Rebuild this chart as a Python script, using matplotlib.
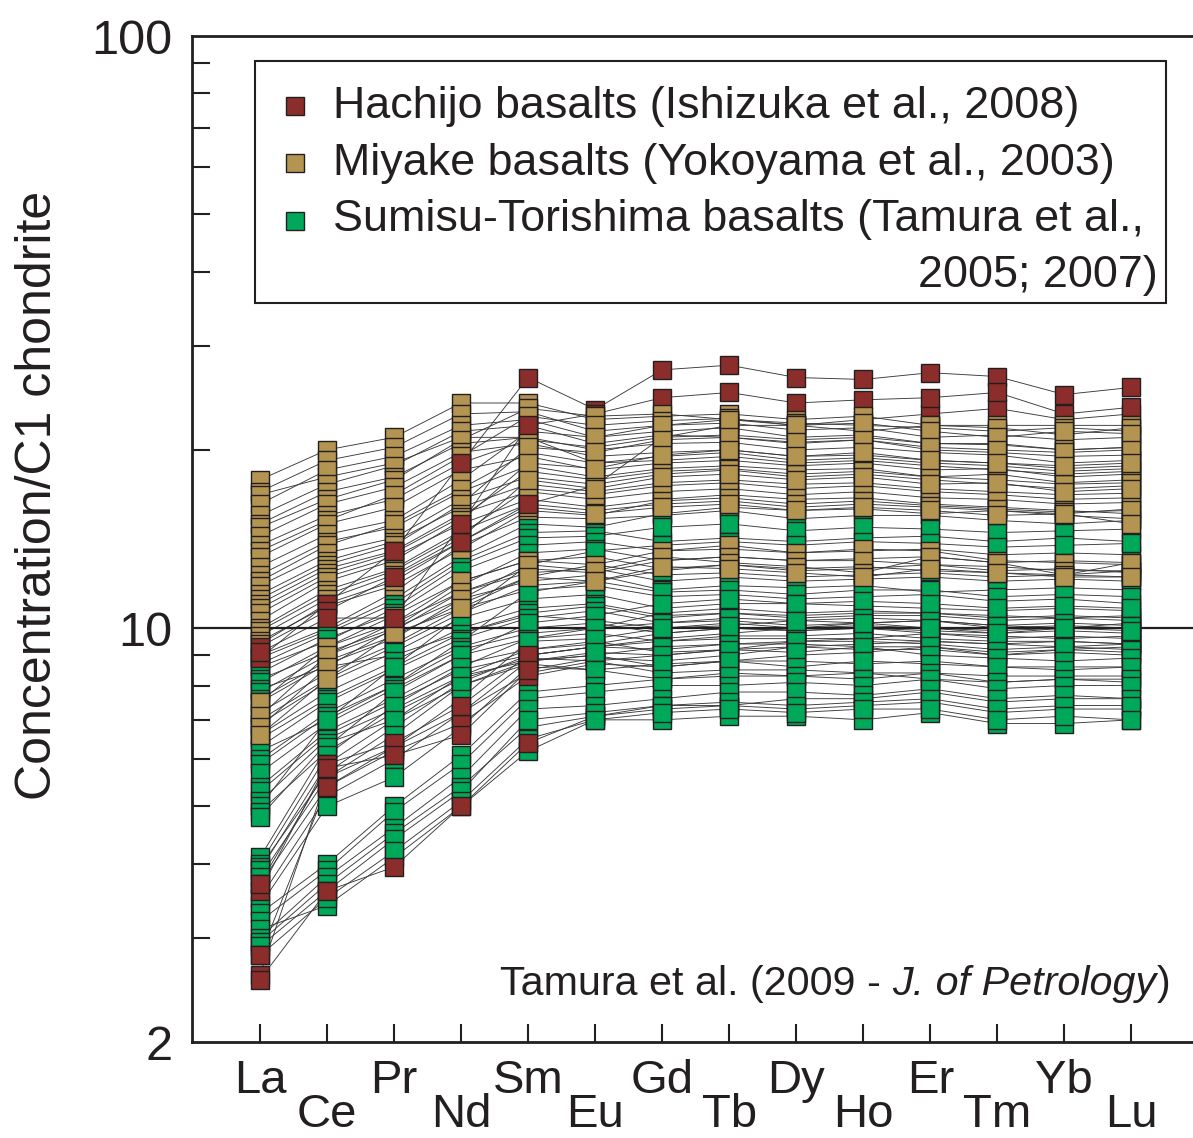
import numpy as np
import matplotlib.pyplot as plt
from matplotlib.patches import Rectangle
from matplotlib.ticker import FixedLocator, NullFormatter

plt.rcParams['font.family'] = ['Liberation Sans', 'DejaVu Sans']

# REE order (chondrite normalised)
elements = ["La", "Ce", "Pr", "Nd", "Sm", "Eu", "Gd", "Tb", "Dy", "Ho", "Er", "Tm", "Yb", "Lu"]

# Hachijo basalts (Ishizuka et al., 2008)
hachijo = [
    [8.9, 11.0, 13.5, 19.0, 26.5, 23.4, 27.3, 27.8, 26.5, 26.3, 27.0, 26.6, 24.8, 25.5],
    [9.3, 10.7, 12.2, 14.0, 16.2, 17.4, 21.0, 22.0, 22.0, 22.5, 23.0, 23.5, 22.5, 23.0],
    [9.1, 10.4, 10.4, 15.0, 22.0, 23.0, 24.5, 25.0, 24.0, 24.3, 24.5, 25.0, 23.0, 23.6],
    [2.6, 5.6, 6.3, 7.2, 8.4, 8.8, 9.0, 9.2, 9.5, 9.6, 9.8, 9.7, 9.6, 9.7],
    [2.8, 5.4, 6.2, 6.9, 8.3, 8.7, 8.6, 8.8, 9.0, 9.1, 9.3, 9.0, 9.2, 9.3],
    [3.6, 5.9, 6.4, 7.4, 9.0, 9.3, 9.6, 9.8, 10.0, 10.2, 10.3, 10.1, 10.0, 10.2],
    [3.7, 5.8, 6.1, 6.6, 8.5, 8.9, 8.8, 9.0, 9.3, 9.4, 9.5, 9.4, 9.3, 9.4],
    [2.55, 3.6, 3.95, 5.0, 6.4, 7.1, 7.3, 7.4, 7.6, 7.6, 7.8, 7.5, 7.6, 7.6],
]

# Miyake basalts (Yokoyama et al., 2003)
miyake = [
    [17.8, 20.0, 21.0, 24.0, 24.0, 22.5, 22.8, 23.0, 22.5, 22.8, 22.0, 22.0, 22.0, 22.0],
    [17.0, 19.2, 20.2, 23.0, 23.2, 21.5, 22.0, 22.2, 21.6, 21.8, 21.0, 21.2, 20.8, 21.0],
    [16.8, 18.0, 19.0, 21.0, 21.0, 19.0, 19.2, 19.5, 19.0, 19.2, 18.8, 18.5, 18.2, 18.4],
    [16.2, 18.5, 19.5, 22.0, 22.5, 21.0, 21.5, 21.8, 21.0, 21.2, 20.5, 20.4, 20.0, 20.2],
    [15.5, 17.5, 18.8, 21.5, 22.0, 20.5, 21.2, 21.0, 20.5, 20.8, 20.0, 19.8, 19.5, 19.6],
    [15.0, 17.0, 18.0, 20.5, 21.0, 20.0, 20.5, 20.6, 20.0, 20.2, 19.8, 19.6, 19.0, 19.2],
    [14.8, 16.5, 17.8, 20.8, 23.5, 22.8, 23.0, 22.5, 22.2, 22.0, 21.8, 21.5, 21.8, 21.5],
    [14.3, 16.2, 17.3, 19.8, 20.5, 19.5, 19.8, 20.0, 19.5, 19.6, 19.2, 19.0, 18.6, 18.8],
    [13.8, 15.5, 16.5, 19.0, 20.8, 20.2, 21.0, 21.2, 20.8, 21.0, 20.5, 20.5, 20.0, 20.2],
    [13.5, 15.2, 16.8, 19.5, 22.8, 22.0, 22.4, 22.6, 22.0, 21.5, 22.0, 21.8, 21.2, 21.8],
    [13.2, 15.0, 16.0, 18.5, 19.5, 18.5, 19.0, 19.2, 18.8, 19.0, 18.5, 18.6, 18.0, 18.2],
    [12.7, 14.4, 15.2, 17.8, 21.5, 21.0, 22.0, 22.5, 22.0, 22.2, 21.5, 21.0, 21.5, 21.3],
    [12.3, 14.0, 14.8, 17.0, 18.8, 18.0, 18.6, 18.8, 18.5, 18.6, 18.0, 18.2, 17.6, 17.8],
    [12.0, 13.8, 15.0, 17.2, 19.8, 19.0, 19.5, 19.8, 19.2, 19.4, 19.0, 18.8, 18.4, 18.6],
    [11.8, 13.4, 14.2, 16.5, 18.0, 17.5, 18.2, 18.5, 18.0, 18.2, 17.8, 17.5, 17.2, 17.4],
    [11.4, 13.0, 14.0, 16.0, 17.5, 17.0, 17.6, 17.8, 17.5, 17.6, 17.2, 17.0, 16.8, 16.9],
    [11.2, 12.8, 13.8, 16.2, 20.2, 19.8, 20.8, 21.0, 20.6, 20.8, 20.2, 20.0, 19.8, 20.0],
    [11.0, 12.6, 13.5, 15.6, 17.0, 16.5, 17.0, 17.2, 16.8, 17.0, 16.6, 16.5, 16.2, 16.3],
    [10.8, 12.4, 13.4, 15.4, 18.4, 17.8, 18.4, 18.6, 18.2, 18.4, 18.0, 17.8, 17.5, 17.6],
    [10.6, 12.2, 13.2, 15.0, 16.5, 16.0, 16.5, 16.8, 16.5, 16.6, 16.2, 16.0, 15.8, 15.6],
    [10.3, 12.0, 13.0, 15.2, 19.0, 18.6, 19.6, 20.0, 19.5, 19.8, 19.2, 19.0, 18.8, 19.0],
    [10.0, 11.6, 12.6, 14.6, 16.2, 15.8, 16.2, 16.4, 16.0, 16.2, 16.0, 15.8, 15.5, 15.3],
    [9.9, 11.4, 12.5, 14.4, 17.2, 16.8, 17.4, 17.6, 17.2, 17.4, 17.0, 16.8, 16.5, 16.6],
    [9.7, 11.2, 12.3, 14.2, 17.8, 17.2, 18.0, 18.2, 17.8, 18.0, 17.5, 17.6, 17.0, 17.2],
    [9.5, 10.9, 11.8, 13.6, 15.8, 15.5, 16.4, 16.6, 16.2, 16.4, 16.1, 15.9, 15.7, 15.8],
    [9.4, 11.0, 12.0, 14.0, 16.0, 15.6, 16.0, 16.2, 15.8, 16.0, 15.8, 15.5, 15.6, 15.0],
    [7.5, 9.3, 10.5, 12.0, 13.0, 12.8, 13.5, 13.8, 13.4, 13.6, 13.5, 13.0, 12.9, 12.8],
    [7.1, 9.0, 10.2, 11.5, 12.6, 12.4, 13.0, 13.2, 13.0, 13.0, 12.8, 12.7, 12.5, 12.5],
    [6.8, 8.6, 10.0, 11.2, 12.8, 12.5, 13.2, 12.9, 12.7, 12.4, 13.2, 12.9, 12.3, 12.9],
    [6.6, 8.2, 9.8, 10.8, 12.2, 12.0, 12.7, 12.6, 12.4, 12.2, 12.6, 12.4, 12.2, 12.2],
]

# Sumisu-Torishima basalts (Tamura et al., 2005; 2007)
sumisu = [
    [9.0, 10.0, 11.5, 13.8, 15.4, 15.3, 15.5, 15.8, 15.3, 15.5, 15.5, 15.2, 15.0, 15.2],
    [8.9, 9.9, 11.2, 13.2, 15.0, 14.8, 15.6, 16.0, 15.8, 15.9, 15.6, 15.8, 15.6, 15.9],
    [8.7, 9.8, 11.0, 13.0, 14.5, 14.6, 14.0, 14.2, 14.0, 14.2, 14.3, 14.0, 14.2, 14.0],
    [8.6, 9.5, 10.8, 12.8, 14.2, 14.3, 14.8, 15.0, 14.6, 14.8, 14.7, 14.5, 14.6, 14.7],
    [8.4, 9.6, 10.6, 12.5, 13.8, 14.0, 13.5, 13.6, 13.4, 13.5, 13.6, 13.3, 13.4, 13.3],
    [8.2, 9.1, 10.0, 11.8, 13.4, 13.6, 13.0, 13.2, 13.0, 13.1, 13.2, 12.9, 13.0, 12.9],
    [8.1, 9.3, 10.2, 12.0, 13.0, 13.2, 12.6, 12.8, 12.5, 12.6, 12.8, 12.5, 12.6, 12.4],
    [7.9, 8.6, 9.0, 9.8, 10.5, 10.3, 10.0, 10.2, 10.0, 10.1, 10.0, 9.9, 10.0, 10.0],
    [7.8, 9.0, 9.9, 11.5, 12.4, 12.6, 12.0, 12.2, 12.0, 12.1, 12.2, 12.0, 12.1, 12.0],
    [7.6, 8.8, 9.7, 11.0, 12.2, 12.8, 12.3, 12.4, 12.2, 12.3, 12.4, 12.2, 12.3, 12.2],
    [7.5, 8.7, 9.6, 11.2, 12.0, 12.3, 11.6, 11.8, 11.7, 11.8, 11.5, 11.6, 11.7, 11.6],
    [7.2, 8.4, 9.4, 10.8, 11.6, 11.8, 11.3, 11.4, 11.2, 11.3, 11.4, 11.1, 11.2, 11.0],
    [7.0, 8.2, 9.3, 10.6, 11.8, 12.0, 11.5, 11.6, 11.4, 11.6, 11.6, 11.3, 11.4, 11.3],
    [6.9, 8.1, 9.1, 10.4, 11.2, 11.4, 10.8, 11.0, 11.0, 10.9, 10.8, 10.7, 10.8, 10.7],
    [6.6, 7.8, 8.8, 10.0, 10.8, 11.0, 10.5, 10.6, 10.5, 10.6, 10.6, 10.4, 10.5, 10.4],
    [6.5, 7.6, 8.6, 9.8, 10.6, 10.9, 10.4, 10.6, 10.4, 10.5, 10.5, 10.3, 10.4, 10.3],
    [6.3, 7.5, 8.5, 9.6, 10.4, 10.7, 10.2, 10.3, 10.1, 10.2, 10.3, 10.0, 10.1, 10.0],
    [6.2, 7.0, 8.0, 9.5, 11.5, 12.0, 12.5, 12.8, 12.6, 12.7, 12.5, 12.4, 12.3, 12.5],
    [6.0, 7.2, 8.2, 9.3, 10.0, 10.2, 9.8, 10.0, 9.9, 10.0, 9.9, 9.8, 9.9, 9.8],
    [5.9, 7.1, 8.0, 9.2, 9.8, 10.0, 10.6, 10.8, 10.6, 10.7, 10.6, 10.5, 10.4, 10.5],
    [5.7, 6.9, 7.9, 9.0, 9.6, 9.8, 9.5, 9.6, 9.6, 9.6, 9.5, 9.4, 9.5, 9.4],
    [5.4, 6.7, 7.6, 8.7, 9.2, 9.5, 9.1, 9.2, 9.3, 9.2, 9.2, 9.0, 9.1, 9.0],
    [5.3, 6.6, 7.5, 8.5, 9.0, 9.3, 9.2, 9.4, 9.4, 9.3, 9.3, 9.1, 9.2, 9.1],
    [5.1, 6.5, 7.3, 8.3, 8.8, 9.0, 8.6, 8.8, 8.8, 8.7, 8.8, 8.6, 8.6, 8.6],
    [5.0, 7.0, 8.6, 10.5, 12.8, 13.5, 13.8, 14.0, 13.8, 14.0, 13.9, 13.7, 13.8, 13.9],
    [4.9, 6.2, 7.2, 8.2, 8.9, 8.8, 8.4, 8.5, 8.5, 8.4, 8.4, 8.3, 8.3, 8.3],
    [4.8, 6.4, 7.0, 8.0, 8.7, 8.5, 8.2, 8.4, 8.3, 8.4, 8.2, 8.1, 8.2, 8.1],
    [4.1, 6.3, 7.8, 9.0, 10.2, 10.5, 11.0, 11.2, 11.0, 11.1, 11.0, 10.8, 10.9, 10.8],
    [4.0, 6.1, 7.4, 8.6, 9.6, 10.0, 10.2, 10.4, 10.3, 10.4, 10.3, 10.1, 10.2, 10.1],
    [3.95, 5.7, 6.8, 8.1, 9.0, 9.3, 9.5, 9.7, 9.7, 9.8, 9.6, 9.5, 9.5, 9.4],
    [3.9, 5.9, 7.0, 8.3, 9.2, 9.4, 9.8, 10.0, 9.9, 10.0, 9.8, 9.6, 9.7, 9.6],
    [3.8, 5.6, 6.6, 8.0, 8.8, 9.0, 9.3, 9.4, 9.5, 9.5, 9.4, 9.2, 9.3, 9.2],
    [3.7, 5.4, 6.3, 7.6, 9.5, 9.6, 10.0, 10.1, 10.3, 10.2, 10.0, 9.8, 10.0, 9.9],
    [3.5, 5.2, 6.0, 7.2, 8.8, 9.1, 9.0, 9.2, 9.1, 9.3, 9.0, 8.9, 8.8, 8.9],
    [3.4, 5.0, 5.6, 6.8, 8.6, 8.5, 8.7, 8.8, 8.6, 8.8, 8.7, 8.6, 8.5, 8.6],
    [3.3, 4.0, 5.0, 6.1, 7.8, 8.0, 8.2, 8.3, 8.3, 8.2, 8.4, 8.1, 8.2, 8.2],
    [3.2, 3.9, 4.9, 5.9, 7.6, 7.8, 8.0, 8.0, 8.1, 8.0, 8.2, 7.9, 8.0, 8.0],
    [3.1, 3.4, 4.1, 5.0, 6.2, 7.0, 7.0, 7.1, 7.1, 7.0, 7.2, 6.9, 6.9, 7.0],
    [3.0, 3.8, 4.6, 5.6, 7.3, 7.4, 7.6, 7.8, 7.8, 7.7, 7.9, 7.6, 7.7, 7.6],
    [2.95, 3.7, 4.5, 5.4, 6.8, 7.1, 7.4, 7.4, 7.3, 7.4, 7.5, 7.2, 7.3, 7.3],
    [2.9, 3.6, 4.4, 5.3, 7.0, 7.2, 7.4, 7.5, 7.4, 7.5, 7.6, 7.3, 7.4, 7.4],
    [2.8, 3.5, 4.2, 5.1, 6.5, 7.0, 7.2, 7.3, 7.2, 7.3, 7.3, 7.0, 7.1, 7.0],
]

labels = ["Hachijo basalts (Ishizuka et al., 2008)",
          "Miyake basalts (Yokoyama et al., 2003)",
          "Sumisu-Torishima basalts (Tamura et al.,"]
colors = ["#8b2d2b", "#b39551", "#00a85a"]
ink = "#231f20"

W, H = 1193, 1138
fig = plt.figure(figsize=(W / 100, H / 100), dpi=100)
ax = fig.add_axes([192 / W, 1 - 1042 / H, 1010 / W, (1042 - 36) / H])

x = np.arange(len(elements))
mk = dict(ls="none", marker="s", ms=13.5, mec=ink, mew=1.0, clip_on=False)

# spider lines first
for grp in [hachijo, miyake, sumisu]:
    for row in grp:
        ax.plot(x, row, color="#3a3a3a", lw=0.65, zorder=2)

# squares: green, then tan on top
for row in sumisu:
    ax.plot(x, row, mfc=colors[2], zorder=3.1, **mk)
for row in miyake:
    ax.plot(x, row, mfc=colors[1], zorder=3.2, **mk)
# red: light REE on top, heavy REE under the other stacks
for row in hachijo:
    ax.plot(x[:5], row[:5], mfc=colors[0], zorder=3.3, **mk)
    ax.plot(x[5:], row[5:], mfc=colors[0], zorder=3.0, **mk)

ax.axhline(10, color=ink, lw=1.6, zorder=2.5)

ax.set_yscale("log")
ax.set_ylim(2, 100)
ax.set_xlim(-68 / 67.03, -68 / 67.03 + 1010 / 67.03)

ax.set_yticks([2, 10, 100])
ax.set_yticklabels(["2", "10", "100"])
ax.yaxis.set_minor_locator(FixedLocator([3, 4, 5, 6, 7, 8, 9, 20, 30, 40, 50, 60, 70, 80, 90]))
ax.yaxis.set_minor_formatter(NullFormatter())
ax.tick_params(axis="y", which="major", length=0, pad=14, labelsize=35, labelcolor=ink)
ax.tick_params(axis="y", which="minor", direction="in", length=13, width=1.5, color=ink)

ax.set_xticks(x)
ax.set_xticklabels([])
ax.tick_params(axis="x", which="major", direction="in", length=13, width=1.5, color=ink)

# staggered element labels
for i, el in enumerate(elements):
    yb = 1093 if i % 2 == 0 else 1127
    fig.text(i * 67.03 / W + 260 / W, 1 - yb / H, el, ha="center",
             va="baseline", fontsize=34, color=ink)

for side in ["left", "bottom", "top"]:
    ax.spines[side].set_linewidth(2.0)
    ax.spines[side].set_color(ink)
ax.spines["right"].set_visible(False)

fig.text(38 / W, 1 - 495 / H, "Concentration/C1 chondrite", rotation=90,
         ha="center", va="center", fontsize=36, color=ink)

# legend drawn by hand
box = Rectangle((255 / W, 1 - 303 / H), (1166 - 255) / W, (303 - 61) / H,
                transform=fig.transFigure, facecolor="white", edgecolor=ink,
                lw=1.5, zorder=5, clip_on=False)
ax.add_patch(box)
for lab, c, ym, yb in zip(labels, colors, [106, 163, 221], [118, 175, 231]):
    ax.plot([295 / W], [1 - ym / H], transform=fig.transFigure, ls="none",
            marker="s", ms=13, mfc=c, mec=ink, mew=1.0, zorder=6, clip_on=False)
    fig.text(333 / W, 1 - yb / H, lab, ha="left", va="baseline", fontsize=32.3,
             color=ink, zorder=6)
fig.text(1158 / W, 1 - 287 / H, "2005; 2007)", ha="right", va="baseline",
         fontsize=32.3, color=ink, zorder=6)

# source note, italic journal name
t1 = fig.text(500 / W, 1 - 995 / H, "Tamura et al. (2009 - ", ha="left",
              va="baseline", fontsize=29.7, color=ink)
t2 = ax.annotate("J. of Petrology", xy=(1, 0), xycoords=t1, ha="left",
                 va="bottom", fontsize=29.7, style="italic", color=ink)
ax.annotate(")", xy=(1, 0), xycoords=t2, ha="left", va="bottom",
            fontsize=29.7, color=ink)

fig.savefig("out.png", dpi=100)
